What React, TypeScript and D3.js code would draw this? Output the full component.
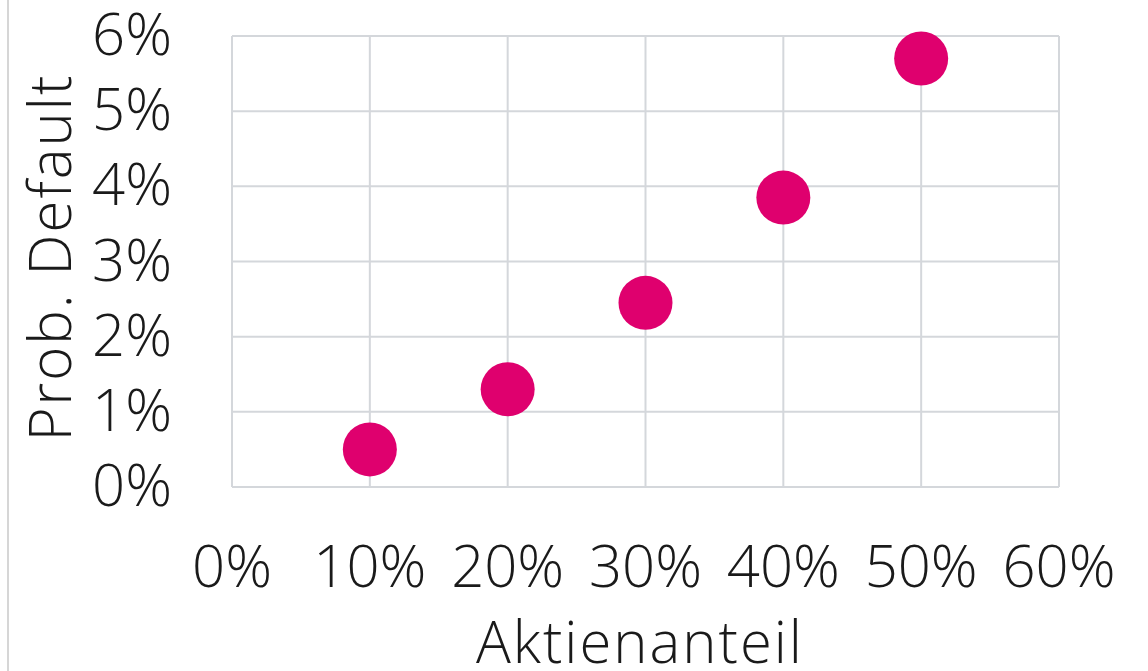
import React from "react";
import * as d3 from "d3";

// Equity share (x) vs. probability of default (y), both in percent
const aktienanteil = [10, 20, 30, 40, 50];
const probDefault = [0.5, 1.3, 2.45, 3.85, 5.7];
const xTicks = [0, 10, 20, 30, 40, 50, 60];
const yTicks = [0, 1, 2, 3, 4, 5, 6];

const W = 1148;
const H = 671;
const plot = { left: 232, right: 1059, top: 36, bottom: 487 };
const FONT = "'Open Sans', 'Lato', sans-serif";
const TEXT = "#1a1a1a";
const GRID = "#d4d7db";
const DOT = "#df006e";

export default function App() {
  const x = d3.scaleLinear().domain([0, 60]).range([plot.left, plot.right]);
  const y = d3.scaleLinear().domain([0, 6]).range([plot.bottom, plot.top]);
  const fmt = (v: number) => `${v}%`;

  return (
    <svg
      width={W}
      height={H}
      style={{ position: "absolute", left: 0, top: 0, background: "#fff" }}
    >
      <line x1={8} x2={8} y1={0} y2={H} stroke="#c8c8c8" strokeWidth={1.5} />
      {/* grid */}
      {yTicks.map((t) => (
        <line
          key={"gy" + t}
          x1={plot.left}
          x2={plot.right}
          y1={y(t)}
          y2={y(t)}
          stroke={GRID}
          strokeWidth={2}
        />
      ))}
      {xTicks.map((t) => (
        <line
          key={"gx" + t}
          x1={x(t)}
          x2={x(t)}
          y1={plot.top}
          y2={plot.bottom}
          stroke={GRID}
          strokeWidth={2}
        />
      ))}
      {/* y tick labels */}
      {yTicks.map((t) => (
        <text
          key={"ly" + t}
          x={172}
          y={y(t) + 19}
          textAnchor="end"
          fontFamily={FONT}
          fontWeight={300}
          fontSize={58}
          fill={TEXT}
        >
          {fmt(t)}
        </text>
      ))}
      {/* x tick labels */}
      {xTicks.map((t) => (
        <text
          key={"lx" + t}
          x={x(t)}
          y={587}
          textAnchor="middle"
          fontFamily={FONT}
          fontWeight={300}
          fontSize={58}
          fill={TEXT}
        >
          {fmt(t)}
        </text>
      ))}
      {/* axis titles */}
      <text
        x={640}
        y={663}
        textAnchor="middle"
        fontFamily={FONT}
        fontWeight={300}
        fontSize={58}
        letterSpacing={2}
        fill={TEXT}
      >
        Aktienanteil
      </text>
      <text
        transform={`translate(71, ${(plot.top + plot.bottom) / 2 - 4}) rotate(-90)`}
        textAnchor="middle"
        fontFamily={FONT}
        fontWeight={300}
        fontSize={58}
        letterSpacing={2}
        fill={TEXT}
      >
        Prob. Default
      </text>
      {/* points */}
      {aktienanteil.map((a, i) => (
        <circle key={"p" + i} cx={x(a)} cy={y(probDefault[i])} r={27} fill={DOT} />
      ))}
    </svg>
  );
}
